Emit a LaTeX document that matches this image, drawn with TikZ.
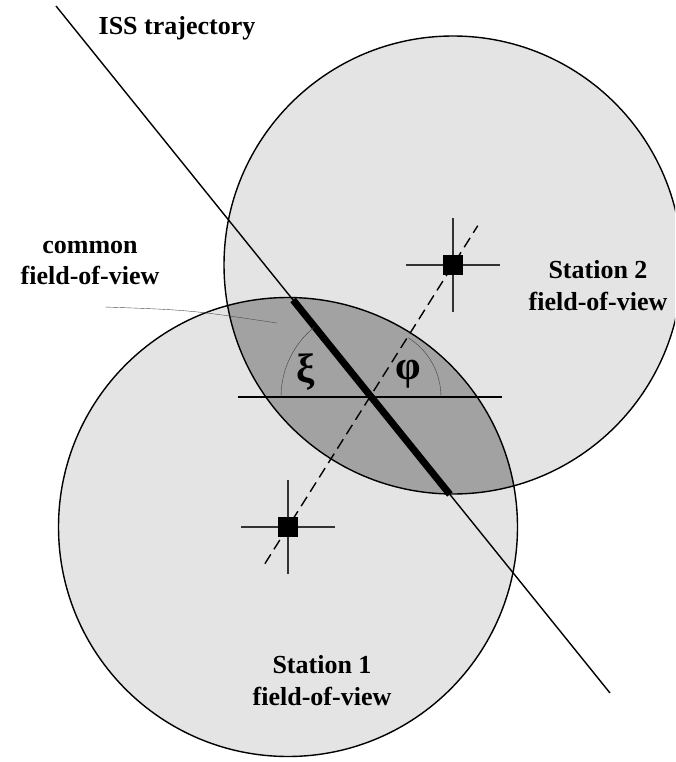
\documentclass[tikz,border=0pt]{standalone}
\usepackage{fontspec}
\setmainfont{Liberation Serif}
\usetikzlibrary{calc}
\definecolor{fovlight}{HTML}{E4E4E4}
\definecolor{fovdark}{HTML}{A2A2A2}

\begin{document}
\begin{tikzpicture}[
  x=1pt, y=-1pt,
  fov/.style={draw=black, line width=1.4pt},
  trace/.style={line width=1.4pt},
  station/.style={fill=black, minimum size=20pt, inner sep=0pt},
  cross/.style={line width=1.8pt, black!80},
  label/.style={font=\fontsize{26}{32}\selectfont\bfseries, align=center},
  greek/.style={font=\fontsize{41}{41}\selectfont\bfseries}
]
  \path[use as bounding box, clip] (0,0) rectangle (675,762);

  % --- Centres and end points ---
  \coordinate (c1) at (288,527);
  \coordinate (c2) at (453,265);
  \coordinate (issA) at (56,6);
  \coordinate (issB) at (610,693);
  \coordinate (x0) at (371,397);
  \coordinate (hL) at (238,397);
  \coordinate (hR) at (502,397);

  % --- Fields of view ---
  \fill[fovlight] (c1) circle (229.5pt);
  \fill[fovlight] (c2) circle (229pt);
  \begin{scope}
    \clip (c1) circle (229.5pt);
    \fill[fovdark] (c2) circle (229pt);
  \end{scope}
  \draw[fov] (c1) circle (229.5pt);
  \draw[fov] (c2) circle (229pt);

  % --- Trajectory ---
  \draw[trace] (issA) -- (issB);
  \draw[line width=7pt] ($(issA)!0.428!(issB)$) -- ($(issA)!0.711!(issB)$);

  % --- Baseline and angles ---
  \draw[trace] (hL) -- (hR);
  \draw[thin, black!75] ($(x0)+(-90,0)$) arc[start angle=180, end angle=231.1, radius=90];
  \draw[thin, black!75] ($(x0)+(70,0)$) arc[start angle=0, end angle=-57.8, radius=70];
  \draw[trace, dash pattern=on 11pt off 6pt] ($(c1)!-0.14!(c2)$) -- ($(c1)!1.15!(c2)$);
  \node[greek] (xi) at (306,372) {ξ};
  \node[greek] (phi) at (408,374) {φ};

  % --- Stations ---
  \foreach \s in {c1,c2} {
    \draw[cross] ($(\s)+(-47,0)$) -- ($(\s)+(47,0)$);
    \draw[cross] ($(\s)+(0,-47)$) -- ($(\s)+(0,47)$);
  }
  \node[station] (st1) at (c1) {};
  \node[station] (st2) at (c2) {};

  % --- Labels ---
  \node[label] (iss) at (177,28) {ISS trajectory};
  \node[label] (common) at (90,263) {common\\field-of-view};
  \node[label] (fov2) at (598,286) {Station 2\\field-of-view};
  \node[label] (fov1) at (322,681) {Station 1\\field-of-view};
  \coordinate (lead1) at (277,323);
  \draw[thin, black!70] (105,307) .. controls (190,310) .. (lead1);

\end{tikzpicture}
\end{document}
